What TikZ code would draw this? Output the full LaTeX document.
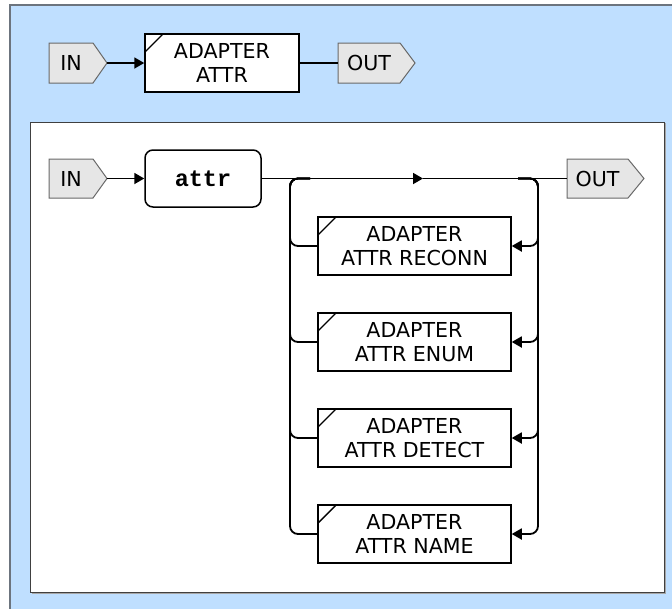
\documentclass[tikz,border=0pt]{standalone}
\usepackage{fontspec}
\setmainfont{DejaVu Sans}
\newfontfamily\codefont{Liberation Mono}
\usetikzlibrary{arrows.meta}
\definecolor{panelblue}{RGB}{191,223,255}
\definecolor{framegray}{RGB}{108,116,126}
\definecolor{flagfill}{RGB}{230,230,230}
\definecolor{flagdraw}{RGB}{105,105,105}
\tikzset{
  lbl/.style={font=\fontsize{20.6}{24}\selectfont, align=center, inner sep=0pt},
  flagpath/.style={fill=flagfill, draw=flagdraw, line width=1pt},
  adapter/.style={draw=black, line width=1.5pt, fill=white, minimum width=193pt,
    minimum height=58pt, inner sep=0pt, align=center, font=\fontsize{20.6}{24}\selectfont,
    path picture={\draw[line width=1.4pt]
      ([yshift=-18pt]path picture bounding box.north west) --
      ([xshift=18pt]path picture bounding box.north west);}},
  rulebox/.style={draw=black, line width=1.5pt, fill=white, rounded corners=8pt,
    minimum width=116pt, minimum height=57pt, inner sep=0pt,
    font=\codefont\bfseries\fontsize{23.5}{27}\selectfont},
  conn/.style={line width=1.8pt, draw=black},
  arr/.style={conn, -{Triangle[length=10pt,width=11pt]}},
  rail/.style={conn, rounded corners=8pt},
  rarr/.style={rail, -{Triangle[length=10pt,width=11pt]}}
}
\begin{document}
\begin{tikzpicture}[x=1pt,y=-1pt]
\useasboundingbox (0,0) rectangle (672,608);
\clip (0,0) rectangle (672,608);
% outer frame
\fill[panelblue] (10,5) rectangle (700,650);
\draw[framegray, line width=2pt] (10,5) rectangle (700,650);
% inner panel
\draw[black!35, line width=1.5pt] (32,124) -- (665.5,124) -- (665.5,593.5) -- (32,593.5);
\draw[fill=white, draw=black!75, line width=1pt] (30,122) rectangle (664,592);

% ---- top row ----
\draw[flagpath] (49,43) -- (93,43) -- (107,63) -- (93,83) -- (49,83) -- cycle;
\node[lbl] (in1) at (71,63) {IN};
\coordinate (in1tip) at (107,63);
\node[adapter, minimum width=154pt] (ad0) at (222,63) {ADAPTER\\ATTR};
\draw[flagpath] (338,43) -- (400,43) -- (415,63) -- (400,83) -- (338,83) -- cycle;
\node[lbl] (out1) at (369,63) {OUT};
\coordinate (out1w) at (338,63);
\draw[arr] (in1tip) -- (ad0.west);
\draw[conn] (ad0.east) -- (out1w);

% ---- inner diagram ----
\draw[flagpath] (49,159) -- (93,159) -- (107,178.5) -- (93,198) -- (49,198) -- cycle;
\node[lbl] (in2) at (71,178.5) {IN};
\coordinate (in2tip) at (107,178.5);
\node[rulebox] (attr) at (203,178.5) {attr};
\draw[flagpath] (567,159) -- (628,159) -- (644,178.5) -- (628,198) -- (567,198) -- cycle;
\node[lbl] (out2) at (597.5,178.5) {OUT};
\coordinate (out2w) at (567,178.5);
\coordinate (mid) at (423,178.5);
\coordinate (railL) at (290,178.5);
\coordinate (railR) at (538,178.5);
\coordinate (lj) at (310,178.5);
\coordinate (rj) at (518,178.5);

\draw[arr] (in2tip) -- (attr.west);
\draw[arr] (attr.east) -- (mid);
\draw[conn] (mid) -- (out2w);

\node[adapter] (b1) at (414.5,246) {ADAPTER\\ATTR RECONN};
\node[adapter] (b2) at (414.5,342) {ADAPTER\\ATTR ENUM};
\node[adapter] (b3) at (414.5,438) {ADAPTER\\ATTR DETECT};
\node[adapter] (b4) at (414.5,534) {ADAPTER\\ATTR NAME};

\foreach \b in {b1,b2,b3,b4}{
  \draw[rarr] (rj) -- (railR) -- (\b.east -| railR) -- (\b.east);
  \draw[rail] (\b.west) -- (\b.west -| railL) -- (railL) -- (lj);
}
\end{tikzpicture}
\end{document}
